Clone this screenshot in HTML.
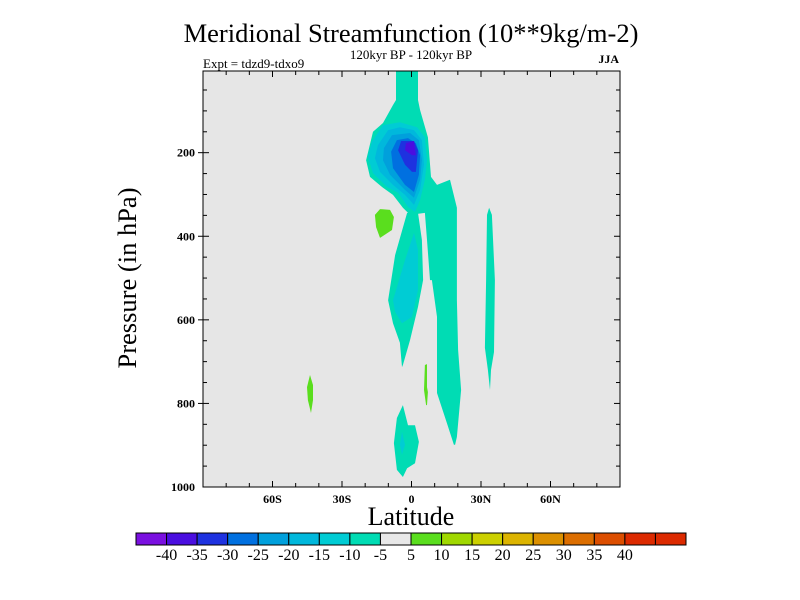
<!DOCTYPE html>
<html><head><meta charset="utf-8"><style>
body{margin:0;background:#fff}
svg{display:block;font-family:"Liberation Serif",serif}
</style></head><body>
<svg id="c" width="800" height="600" xmlns="http://www.w3.org/2000/svg">
<text x="411" y="42" text-anchor="middle" font-size="26.5">Meridional Streamfunction (10**9kg/m-2)</text>
<text x="411" y="59" text-anchor="middle" font-size="13">120kyr BP - 120kyr BP</text>
<text x="203" y="68" font-size="13">Expt = tdzd9-tdxo9</text>
<text x="619" y="63" text-anchor="end" font-size="12" font-weight="bold">JJA</text>
<text transform="translate(136,278) rotate(-90)" text-anchor="middle" font-size="26.5">Pressure (in hPa)</text>
<text x="411" y="525" text-anchor="middle" font-size="26">Latitude</text>
<rect x="203" y="71" width="417" height="416" fill="#e6e6e6"/>
<g id="fills"></g>
<g id="axes"></g>
<g id="cbar"></g>
</svg>
<script>
const NS="http://www.w3.org/2000/svg";
const levels=[-40,-35,-30,-25,-20,-15,-10,-5,5,10,15,20,25,30,35,40];
const colors=["#7a10e0","#4a0ee0","#1e32e0","#0070e0","#00a0dc","#00b8dc","#00ccd4","#00dcb4","#e8e8e8","#5ade1e","#a0d800","#ccd000","#dcb400","#dc9000","#dc6e00","#dc4e00","#dc2a00","#dc2a00"];
const xTicks=[-60,-30,0,30,60];
const xTickLabels=["60S","30S","0","30N","60N"];
const yTicks=[200,400,600,800,1000];
const teal=7,cyan=6;
const mainTeal=[[-6.7,5],[-6.7,74],[-8,86],[-12.3,129],[-16.6,150],[-19.6,218],[-17.9,258],[-12.3,284],[-8,301],[-3.7,332],[-0.6,349],[5.8,344],[6.7,409],[8,505],[8.8,505],[11,593],[11,775],[15.3,847],[18.3,899],[18.8,899],[19.6,880],[21.4,768],[20.1,672],[19.6,553],[19.6,332],[16.6,265],[11,277],[8.4,258],[7.1,163],[3.7,98],[2.8,74],[2.8,5]];
const filamentTeal=[[-1.9,344],[-7.1,445],[-10.1,553],[-8,608],[-5,655],[-4.1,713],[-3.7,708],[-0.6,648],[2.8,569],[5,505],[4.5,409],[2.8,344]];
const filamentCyan=[[1.1,392],[-2.8,457],[-8,553],[-7.1,581],[-4.1,608],[0.2,593],[2.8,529],[2.8,433]];
const blob15=[[-12.3,134],[-17.1,174],[-18.8,210],[-16.6,249],[-10.6,282],[-5.8,296],[-1.5,330],[1.5,342],[3.7,313],[5.8,265],[6.7,218],[5.8,163],[2.4,139],[-5,127]];
const blob20=[[-10.1,146],[-14.5,182],[-15.8,213],[-13.6,246],[-8,277],[-2.8,301],[1.1,325],[3.7,289],[5.4,229],[4.5,170],[1.1,146],[-5,139]];
const blob25=[[-8.4,158],[-11.9,189],[-12.3,218],[-9.3,253],[-2.8,289],[1.1,308],[3.7,265],[4.5,218],[3.2,170],[-0.6,153]];
const blob30=[[-6.3,170],[-8.8,198],[-8,237],[-2.8,277],[1.1,294],[3.2,253],[3.7,206],[1.9,177],[-1.5,165]];
const blob35=[[-4.5,172],[-5.8,194],[-2.8,229],[0.2,246],[1.9,246],[2.8,194],[1.1,172]];
const blob40=[[-2.4,177],[1.1,172],[1.9,206],[0.2,206],[-2.8,194]];
const green1=[[-15.8,349],[-13.6,335],[-9.3,337],[-7.6,354],[-8.4,385],[-13.6,404],[-15.3,378]];
const green2=[[5.8,708],[6.7,706],[6.7,761],[7.1,773],[6.7,804],[6.3,804],[5.4,768]];
const green3=[[-43.8,732],[-42.5,756],[-42.5,792],[-43.4,823],[-44.7,792],[-45.1,761]];
const rightTeal=[[33.5,332],[34.7,349],[36,505],[35.6,677],[34.3,720],[33.9,768],[33,720],[31.7,667],[32.2,505],[32.6,349]];
const bottomTeal=[[-3.7,804],[-1.5,852],[1.5,852],[3.2,892],[1.5,943],[-1.9,955],[-3.7,976],[-6.3,959],[-7.6,895],[-6.3,835]];
const bottomCyan=[[-4.1,868],[-2.8,899],[-4.1,923],[-5,899]];
const regions=[[teal,mainTeal,"main-cell-outer"],[teal,filamentTeal,"filament-outer"],[cyan,filamentCyan,"filament-inner"],[cyan,blob15,"cell-level-15"],[5,blob20,"cell-level-20"],[4,blob25,"cell-level-25"],[3,blob30,"cell-level-30"],[2,blob35,"cell-level-35"],[1,blob40,"cell-level-40"],[9,green1,"positive-patch-1"],[9,green2,"positive-patch-2"],[9,green3,"positive-patch-3"],[teal,rightTeal,"right-column"],[teal,bottomTeal,"bottom-cell-outer"],[cyan,bottomCyan,"bottom-cell-inner"]];

const X0=203,X1=620,Y0=71,Y1=487;
const xs=lat=>411.5+lat*(417/180);
const ys=p=>487-(1000-p)*0.4179;

const fills=document.getElementById('fills');
regions.forEach(r=>{
  const pg=document.createElementNS(NS,'polygon');
  pg.setAttribute('points',r[1].map(q=>xs(q[0]).toFixed(1)+','+ys(q[1]).toFixed(1)).join(' '));
  pg.setAttribute('fill',colors[r[0]]);
  
  
  fills.appendChild(pg);
});

const ax=document.getElementById('axes');
function line(x1,y1,x2,y2,w){const l=document.createElementNS(NS,'line');l.setAttribute('x1',x1);l.setAttribute('y1',y1);l.setAttribute('x2',x2);l.setAttribute('y2',y2);l.setAttribute('stroke','#000');l.setAttribute('stroke-width',w||1);ax.appendChild(l);return l;}
const fr=document.createElementNS(NS,'rect');
fr.setAttribute('x',X0);fr.setAttribute('y',Y0);fr.setAttribute('width',X1-X0);fr.setAttribute('height',Y1-Y0);fr.setAttribute('fill','none');fr.setAttribute('stroke','#000');


ax.appendChild(fr);
for(let lat=-80;lat<=80;lat+=10){const x=xs(lat);const maj=lat%30===0;const L=maj?6:4;line(x,Y1,x,Y1-L);line(x,Y0,x,Y0+L);}
for(let p=50;p<1000;p+=50){const y=ys(p);const maj=p%200===0;const L=maj?6:4;line(X0,y,X0+L,y);line(X1,y,X1-L,y);if(maj)line(X0,y,X0-5,y);}
xTicks.forEach((v,i)=>{const t=document.createElementNS(NS,'text');t.setAttribute('x',xs(v));t.setAttribute('y',503);t.setAttribute('text-anchor','middle');t.setAttribute('font-size','12');t.setAttribute('font-weight','bold');t.textContent=xTickLabels[i];


ax.appendChild(t);});
yTicks.forEach(v=>{const t=document.createElementNS(NS,'text');t.setAttribute('x',195);t.setAttribute('y',ys(v)+4);t.setAttribute('text-anchor','end');t.setAttribute('font-size','12');t.setAttribute('font-weight','bold');t.textContent=v;


ax.appendChild(t);});

const cb=document.getElementById('cbar');
const CX=136,CW=550/18,CY=533,CH=12;
for(let i=0;i<18;i++){
  const r=document.createElementNS(NS,'rect');
  r.setAttribute('x',CX+i*CW);r.setAttribute('y',CY);r.setAttribute('width',CW);r.setAttribute('height',CH);
  r.setAttribute('fill',colors[i]);r.setAttribute('stroke','#000');r.setAttribute('stroke-width','1');
  
  
  cb.appendChild(r);
}
levels.forEach((v,i)=>{const t=document.createElementNS(NS,'text');t.setAttribute('x',CX+(i+1)*CW);t.setAttribute('y',560);t.setAttribute('text-anchor','middle');t.setAttribute('font-size','16');t.textContent=v;


cb.appendChild(t);});
</script>
</body></html>
